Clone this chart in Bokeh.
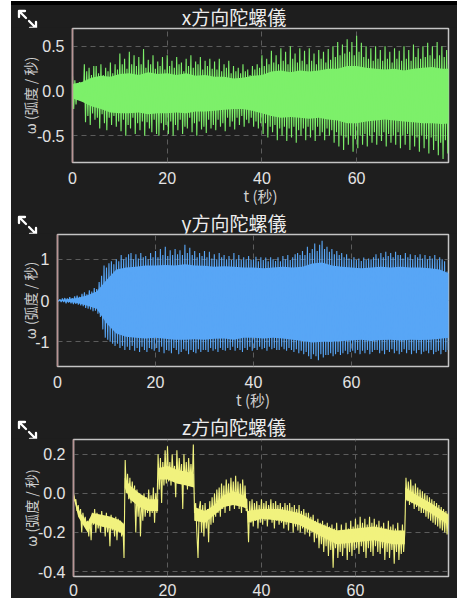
import numpy as np
from bokeh.plotting import figure
from bokeh.models import Range1d, FixedTicker, NumeralTickFormatter, Spacer, Div
from bokeh.layouts import column, row
from bokeh.embed import file_html
from bokeh.resources import INLINE

# ---------------- data ----------------
titles = ["x方向陀螺儀", "y方向陀螺儀", "z方向陀螺儀"]
x_label = "t (秒)"
y_label = "ω (弧度 / 秒)"
x_ticks = [0, 20, 40, 60]

step = 0.25         # seconds between samples of the traces
core_step = 2.0     # seconds between samples of the dense-core envelopes (x, y)

# x gyro: alternating peak / trough values every 0.25 s
gx = [0.17, -0.2, 0.12, -0.15, 0.08, -0.1, 0.1, -0.08, 0.06, -0.12, 0.3, -0.35, 0.22, -0.28, 0.26, -0.38, 0.18, -0.25, 0.28, -0.32,
      0.28, -0.3, 0.2, -0.42, 0.3, -0.26, 0.18, -0.36, 0.26, -0.44, 0.22, -0.3, 0.32, -0.38, 0.2, -0.28, 0.3, -0.4, 0.24, -0.34,
      0.42, -0.45, 0.3, -0.32, 0.36, -0.5, 0.25, -0.38, 0.44, -0.42, 0.3, -0.3, 0.4, -0.48, 0.28, -0.36, 0.38, -0.44, 0.3, -0.34,
      0.47, -0.5, 0.26, -0.35, 0.35, -0.42, 0.3, -0.46, 0.4, -0.32, 0.25, -0.48, 0.33, -0.5, 0.28, -0.36, 0.38, -0.44, 0.24, -0.38,
      0.4, -0.48, 0.28, -0.34, 0.34, -0.5, 0.26, -0.38, 0.38, -0.44, 0.3, -0.32, 0.32, -0.48, 0.22, -0.4, 0.36, -0.42, 0.28, -0.3,
      0.4, -0.46, 0.26, -0.36, 0.33, -0.5, 0.3, -0.34, 0.38, -0.43, 0.24, -0.4, 0.34, -0.47, 0.28, -0.32, 0.36, -0.42, 0.25, -0.38,
      0.33, -0.44, 0.24, -0.32, 0.36, -0.4, 0.22, -0.36, 0.3, -0.45, 0.26, -0.3, 0.34, -0.4, 0.2, -0.34, 0.28, -0.43, 0.22, -0.3,
      0.26, -0.38, 0.2, -0.28, 0.3, -0.4, 0.22, -0.32, 0.24, -0.36, 0.18, -0.3, 0.28, -0.4, 0.24, -0.34, 0.3, -0.42, 0.26, -0.36,
      0.4, -0.48, 0.28, -0.36, 0.36, -0.52, 0.3, -0.4, 0.45, -0.46, 0.32, -0.38, 0.4, -0.55, 0.3, -0.42, 0.48, -0.5, 0.34, -0.4,
      0.44, -0.56, 0.3, -0.42, 0.5, -0.52, 0.36, -0.4, 0.42, -0.58, 0.32, -0.44, 0.48, -0.5, 0.34, -0.42, 0.45, -0.55, 0.3, -0.4,
      0.48, -0.52, 0.34, -0.44, 0.42, -0.56, 0.3, -0.4, 0.46, -0.5, 0.36, -0.46, 0.44, -0.55, 0.32, -0.42, 0.47, -0.5, 0.35, -0.44,
      0.5, -0.58, 0.38, -0.46, 0.55, -0.62, 0.4, -0.5, 0.52, -0.66, 0.42, -0.52, 0.58, -0.6, 0.44, -0.5, 0.55, -0.68, 0.4, -0.54,
      0.62, -0.64, 0.44, -0.5, 0.54, -0.6, 0.38, -0.48, 0.5, -0.62, 0.36, -0.5, 0.48, -0.58, 0.34, -0.46, 0.5, -0.6, 0.36, -0.5,
      0.46, -0.56, 0.34, -0.46, 0.5, -0.62, 0.36, -0.48, 0.44, -0.58, 0.32, -0.5, 0.48, -0.6, 0.36, -0.46, 0.45, -0.64, 0.34, -0.5,
      0.5, -0.6, 0.36, -0.48, 0.46, -0.66, 0.34, -0.5, 0.52, -0.62, 0.38, -0.52, 0.48, -0.68, 0.36, -0.5, 0.5, -0.64, 0.38, -0.54,
      0.54, -0.7, 0.4, -0.52, 0.5, -0.66, 0.36, -0.56, 0.55, -0.72, 0.4, -0.58, 0.5, -0.76, 0.38, -0.55, 0.46, -0.7, 0.3, -0.5]
gx_core_hi = [0.08, 0.1, 0.15, 0.17, 0.16, 0.19, 0.2, 0.18, 0.21, 0.19, 0.2, 0.18, 0.2, 0.17, 0.18, 0.16, 0.16, 0.14,
              0.15, 0.17, 0.18, 0.22, 0.23, 0.21, 0.23, 0.22, 0.23, 0.25, 0.25, 0.28, 0.28, 0.26, 0.25, 0.24, 0.25,
              0.23, 0.25, 0.26, 0.27, 0.25, 0.25]
gx_core_lo = [-0.08, -0.12, -0.17, -0.2, -0.24, -0.25, -0.25, -0.24, -0.26, -0.25, -0.25, -0.24, -0.25, -0.23,
              -0.23, -0.22, -0.21, -0.2, -0.2, -0.22, -0.25, -0.28, -0.3, -0.29, -0.3, -0.31, -0.3, -0.32, -0.33,
              -0.36, -0.36, -0.34, -0.33, -0.32, -0.33, -0.34, -0.35, -0.36, -0.36, -0.37, -0.36]

# y gyro: alternating peak / trough values every 0.25 s
gy = [0.01, -0.02, 0.03, -0.04, 0.05, -0.04, 0.06, -0.07, 0.05, -0.05, 0.08, -0.07, 0.06, -0.09, 0.1, -0.08, 0.12, -0.1, 0.09, -0.12,
      0.16, -0.14, 0.2, -0.18, 0.15, -0.2, 0.25, -0.22, 0.22, -0.26, 0.3, -0.25, 0.28, -0.32, 0.45, -0.4, 0.6, -0.7, 0.85, -0.9,
      0.8, -0.95, 0.9, -1.0, 0.95, -1.05, 0.88, -1.1, 1.0, -1.05, 0.95, -1.15, 1.1, -1.1, 1.0, -1.2, 1.05, -1.12, 1.12, -1.2,
      1.15, -1.1, 1.0, -1.22, 1.12, -1.15, 1.02, -1.25, 1.15, -1.12, 1.05, -1.2, 1.08, -1.25, 1.0, -1.15, 1.15, -1.18, 1.05, -1.22,
      1.2, -1.15, 1.05, -1.25, 1.25, -1.12, 1.1, -1.28, 1.3, -1.2, 1.08, -1.22, 1.22, -1.28, 1.1, -1.15, 1.25, -1.2, 1.12, -1.3,
      1.22, -1.25, 1.1, -1.18, 1.35, -1.22, 1.15, -1.3, 1.28, -1.2, 1.1, -1.25, 1.2, -1.28, 1.05, -1.18, 1.15, -1.25, 1.08, -1.2,
      1.2, -1.2, 1.05, -1.25, 1.18, -1.15, 1.02, -1.22, 1.12, -1.18, 1.0, -1.25, 1.15, -1.15, 1.05, -1.2, 1.1, -1.22, 1.0, -1.15,
      1.08, -1.2, 0.98, -1.12, 1.15, -1.22, 1.0, -1.15, 1.1, -1.2, 0.98, -1.25, 1.05, -1.15, 1.0, -1.2, 1.08, -1.12, 0.98, -1.22,
      1.0, -1.15, 1.06, -1.2, 0.95, -1.12, 1.05, -1.18, 0.98, -1.15, 1.04, -1.22, 0.95, -1.12, 1.05, -1.18, 1.0, -1.15, 0.96, -1.2,
      1.05, -1.2, 0.95, -1.12, 1.08, -1.18, 1.0, -1.22, 1.1, -1.15, 0.98, -1.2, 1.05, -1.25, 1.12, -1.18, 1.15, -1.28, 1.1, -1.22,
      1.2, -1.3, 1.1, -1.25, 1.3, -1.35, 1.15, -1.42, 1.25, -1.3, 1.38, -1.35, 1.2, -1.45, 1.35, -1.3, 1.45, -1.38, 1.25, -1.32,
      1.3, -1.32, 1.18, -1.28, 1.25, -1.35, 1.12, -1.3, 1.2, -1.25, 1.1, -1.32, 1.15, -1.28, 1.05, -1.22, 1.12, -1.3, 1.02, -1.25,
      1.0, -1.22, 1.05, -1.28, 0.98, -1.2, 1.02, -1.3, 0.96, -1.22, 1.04, -1.28, 0.98, -1.2, 1.02, -1.3, 1.0, -1.25, 1.05, -1.2,
      1.12, -1.2, 1.02, -1.28, 1.15, -1.22, 1.05, -1.3, 1.18, -1.2, 1.08, -1.25, 1.15, -1.18, 1.05, -1.28, 1.18, -1.22, 1.1, -1.3,
      1.1, -1.25, 1.02, -1.18, 1.15, -1.28, 1.05, -1.2, 1.12, -1.3, 1.0, -1.22, 1.1, -1.28, 1.05, -1.2, 1.12, -1.3, 1.02, -1.24,
      1.1, -1.22, 1.0, -1.28, 1.08, -1.2, 1.02, -1.3, 1.1, -1.25, 0.98, -1.22, 1.05, -1.3, 1.0, -1.2, 0.95, -1.25, 0.7, -1.2]
gy_core_hi = [0.0, 0.03, 0.06, 0.12, 0.22, 0.5, 0.75, 0.8, 0.82, 0.85, 0.85, 0.86, 0.85, 0.88, 0.85, 0.84, 0.82, 0.83,
              0.82, 0.8, 0.8, 0.78, 0.8, 0.82, 0.8, 0.82, 0.9, 0.92, 0.85, 0.82, 0.8, 0.78, 0.8, 0.82, 0.8, 0.82,
              0.8, 0.8, 0.78, 0.75, 0.65]
gy_core_lo = [0.0, -0.03, -0.06, -0.12, -0.2, -0.55, -0.8, -0.88, -0.9, -0.92, -0.9, -0.93, -0.95, -0.95, -0.94,
              -0.95, -0.93, -0.92, -0.95, -0.9, -0.9, -0.92, -0.9, -0.92, -0.95, -0.98, -1.02, -1.0, -1.0, -0.98,
              -0.97, -0.95, -0.98, -0.96, -0.95, -0.97, -0.95, -0.96, -0.95, -0.93, -0.9]

# z gyro: noisy trace every 0.25 s, plus its dense core band
gz = [0.0, -0.04, -0.03, -0.09, -0.06, -0.12, -0.08, -0.2, -0.1, -0.15, -0.12, -0.18, -0.14, -0.22, -0.13, -0.24, -0.1, -0.16, -0.08, -0.2,
      -0.1, -0.18, -0.12, -0.2, -0.09, -0.17, -0.12, -0.22, -0.1, -0.2, -0.13, -0.27, -0.11, -0.19, -0.14, -0.22, -0.12, -0.24, -0.13, -0.2,
      -0.14, -0.22, -0.15, -0.33, 0.17, 0.0, 0.1, -0.03, 0.08, -0.05, 0.06, -0.04, 0.04, -0.2, 0.02, -0.12, 0.0, -0.22, -0.02, -0.14,
      0.0, -0.12, -0.02, -0.1, 0.02, -0.12, -0.01, -0.1, 0.03, -0.15, 0.0, -0.1, 0.2, 0.02, 0.18, -0.05, 0.16, 0.04, 0.22, 0.05,
      0.24, 0.06, 0.16, 0.04, 0.2, 0.08, 0.14, -0.02, 0.22, 0.05, 0.18, 0.06, 0.15, -0.08, 0.2, 0.05, 0.16, 0.02, 0.18, 0.06,
      0.15, 0.04, 0.25, -0.1, -0.05, -0.2, -0.33, -0.08, -0.04, -0.2, -0.06, -0.22, -0.05, -0.18, -0.08, -0.25, -0.04, -0.16, -0.02, -0.15,
      0.0, -0.12, 0.02, -0.1, 0.03, -0.12, 0.05, -0.08, 0.04, -0.1, 0.07, -0.06, 0.05, -0.09, 0.08, -0.05, 0.06, -0.08, 0.09, -0.06,
      0.06, -0.08, 0.05, -0.1, 0.07, -0.07, 0.04, -0.09, -0.08, -0.25, -0.04, -0.15, -0.03, -0.17, -0.05, -0.14, -0.04, -0.18, -0.06, -0.15,
      -0.03, -0.16, -0.05, -0.14, -0.04, -0.17, -0.06, -0.13, -0.03, -0.15, -0.05, -0.18, -0.04, -0.14, -0.06, -0.16, -0.05, -0.15, -0.07, -0.18,
      -0.05, -0.16, -0.06, -0.19, -0.05, -0.15, -0.07, -0.2, -0.06, -0.17, -0.08, -0.19, -0.06, -0.2, -0.09, -0.18, -0.08, -0.21, -0.1, -0.2,
      -0.1, -0.22, -0.12, -0.2, -0.11, -0.25, -0.14, -0.23, -0.13, -0.28, -0.15, -0.26, -0.14, -0.3, -0.16, -0.27, -0.15, -0.32, -0.17, -0.29,
      -0.16, -0.38, -0.18, -0.28, -0.15, -0.33, -0.19, -0.3, -0.16, -0.32, -0.2, -0.28, -0.15, -0.34, -0.18, -0.3, -0.14, -0.32, -0.17, -0.29,
      -0.13, -0.28, -0.16, -0.31, -0.12, -0.27, -0.15, -0.3, -0.13, -0.33, -0.16, -0.28, -0.12, -0.3, -0.15, -0.32, -0.13, -0.27, -0.16, -0.3,
      -0.14, -0.31, -0.17, -0.28, -0.15, -0.34, -0.18, -0.3, -0.14, -0.33, -0.17, -0.29, -0.16, -0.36, -0.18, -0.3, -0.15, -0.34, -0.19, -0.31,
      -0.16, -0.3, -0.2, 0.08, -0.04, 0.06, -0.06, 0.07, -0.05, 0.04, -0.08, 0.05, -0.07, 0.03, -0.09, 0.02, -0.1, 0.01, -0.1, 0.0,
      -0.12, -0.01, -0.13, -0.02, -0.14, -0.03, -0.15, -0.04, -0.16, -0.05, -0.17, -0.06, -0.18, -0.07, -0.19, -0.08, -0.2, -0.09, -0.21, -0.1]
gz_core_t = [0, 1, 2, 3, 4, 6, 8, 10, 10.8, 10.9, 12, 14, 16, 18, 18.1, 20, 22, 24, 25.6, 25.7,
             28, 30, 32, 34, 36, 37, 37.1, 40, 44, 48, 52, 56, 60, 64, 68, 70.5, 70.6, 73, 76, 79.8]
gz_core_hi = [0.0, -0.08, -0.12, -0.15, -0.1, -0.11, -0.12, -0.14, -0.16, 0.08, 0.04, 0.0, -0.03, -0.03, 0.13, 0.14,
              0.12, 0.11, 0.1, -0.07, -0.09, -0.06, -0.01, 0.01, -0.01, -0.03, -0.09, -0.08, -0.08, -0.1, -0.15,
              -0.19, -0.18, -0.17, -0.19, -0.19, 0.03, -0.01, -0.05, -0.11]
gz_core_lo = [-0.02, -0.12, -0.16, -0.2, -0.15, -0.17, -0.18, -0.2, -0.22, 0.03, -0.03, -0.07, -0.09, -0.09, 0.07,
              0.07, 0.05, 0.04, 0.03, -0.14, -0.15, -0.11, -0.07, -0.06, -0.07, -0.08, -0.15, -0.13, -0.14, -0.16,
              -0.21, -0.26, -0.25, -0.24, -0.26, -0.26, -0.03, -0.06, -0.1, -0.16]

# ---------------- styling ----------------
BG = "#1e1e1e"
CJK = "Noto Sans CJK TC"
NUM = "Liberation Sans"
colors = ["#7df06a", "#58a6f6", "#f1f27e"]

ICON = ('<svg width="22" height="22" viewBox="0 0 22 22" style="position:absolute;left:6px;top:{top}px">'
        '<g stroke="white" stroke-width="2.3" fill="none" stroke-linecap="round" stroke-linejoin="round">'
        '<path d="M9 9 L2 2 M2 8 L2 2 L8 2"/>'
        '<path d="M12 12 L19 19 M13 19 L19 19 L19 13"/></g></svg>')


def header(i, height, title_center, icon_top):
    html = ('<div style="position:relative;width:446px;height:{h}px;">{icon}'
            '<div style="position:absolute;left:0;width:446px;top:{tt}px;text-align:center;'
            'font-family:\'{f}\';font-size:19px;line-height:20px;color:#ececec;">{t}</div></div>').format(
        h=height, icon=ICON.format(top=icon_top), tt=title_center - 10, f=CJK, t=titles[i])
    return Div(text=html, width=446, height=height, margin=(0, 0, 0, 0),
               styles={"background-color": BG, "overflow": "visible"})


def make_panel(i, series, core_t, core_hi, core_lo, y_range, y_ticks, y_fmt, x_end,
               height, b_left, b_bottom, with_xlabel, ylab_standoff):
    p = figure(width=446, height=height, output_backend="svg", toolbar_location=None,
               x_range=Range1d(0, x_end), y_range=Range1d(*y_range),
               min_border_left=b_left, min_border_right=9,
               min_border_top=1, min_border_bottom=b_bottom)
    p.background_fill_color = BG
    p.border_fill_color = BG
    p.outline_line_color = "#c4c4c4"
    p.outline_line_width = 1.5

    t = np.arange(len(series)) * step
    p.varea(x=core_t, y1=core_lo, y2=core_hi, fill_color=colors[i], fill_alpha=1.0)
    p.line(t, series, line_color=colors[i], line_width=1.1)

    for ax in (p.xaxis[0], p.yaxis[0]):
        ax.major_tick_line_color = None
        ax.minor_tick_line_color = None
        ax.major_label_text_color = "#e4e4e4"
        ax.major_label_text_font = NUM
        ax.major_label_text_font_size = "16px"
        ax.axis_label_text_color = "#cfcfcf"
        ax.axis_label_text_font = CJK
        ax.axis_label_text_font_style = "normal"
    p.xaxis.axis_label_text_font_size = "15px"
    p.yaxis.axis_label_text_font_size = "14px"
    p.xaxis.axis_line_color = None
    p.yaxis.axis_line_color = "#b89494"
    p.yaxis.axis_line_width = 1.5

    p.xaxis.ticker = FixedTicker(ticks=x_ticks)
    p.xaxis.major_label_standoff = 3 if with_xlabel else 1
    if with_xlabel:
        p.xaxis.axis_label = x_label
        p.xaxis.axis_label_standoff = -2
    p.yaxis.ticker = FixedTicker(ticks=y_ticks)
    p.yaxis.formatter = NumeralTickFormatter(format=y_fmt)
    p.yaxis.major_label_standoff = 2
    p.yaxis.axis_label = y_label
    p.yaxis.axis_label_standoff = ylab_standoff

    p.xgrid.ticker = FixedTicker(ticks=x_ticks)
    p.ygrid.ticker = FixedTicker(ticks=y_ticks)
    for g in (p.xgrid[0], p.ygrid[0]):
        g.grid_line_color = "#5c5c5c"
        g.grid_line_dash = "5 4"
        g.grid_line_width = 1
    return p


h1 = header(0, 22, 12, 4)
p1 = make_panel(0, gx, np.arange(len(gx_core_hi)) * core_step, gx_core_hi, gx_core_lo,
                (-0.80, 0.70), [-0.5, 0.0, 0.5], "0.0", 79.4, 181, 61, 40, True, -6)
h2 = header(1, 25, 15, 7)
p2 = make_panel(1, gy, np.arange(len(gy_core_hi)) * core_step, gy_core_hi, gy_core_lo,
                (-1.6, 1.6), [-1, 0, 1], "0", 79.8, 179, 46, 39, True, -8)
h3 = header(2, 26, 15, 8)
p3 = make_panel(2, gz, gz_core_t, gz_core_hi, gz_core_lo,
                (-0.425, 0.275), [-0.4, -0.2, 0.0, 0.2], "0.0", 79.8, 160, 62, 19, False, -6)

top_white = Spacer(width=446, height=1, styles={"background-color": "white"})
top_line = Spacer(width=446, height=4, styles={"background-color": "black"})
stack = column(top_white, top_line, h1, row(p1), h2, row(p2), h3, row(p3),
               spacing=0, styles={"background-color": BG})
layout = row(Spacer(width=11, height=598), stack, spacing=0)

open("out.html", "w").write(file_html(layout, INLINE))
